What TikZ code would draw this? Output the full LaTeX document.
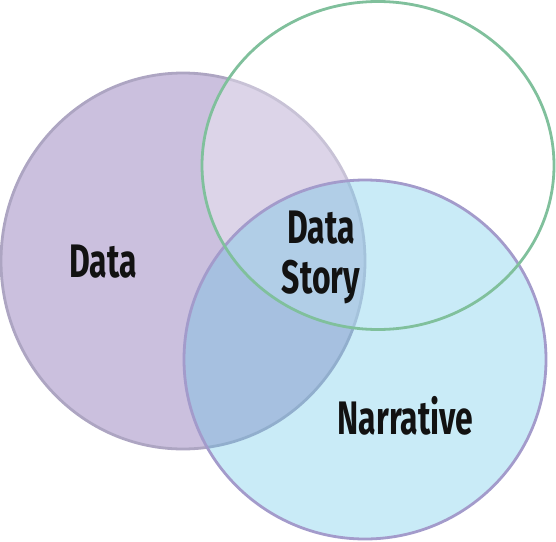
\documentclass[tikz,border=0pt]{standalone}
\usepackage{fontspec}
\newfontfamily\lbl{Fira Sans}[FakeStretch=0.68]
\definecolor{purpfill}{HTML}{CBC0DE}
\definecolor{purpedge}{HTML}{ADA5C2}
\definecolor{bluefill}{RGB}{91,194,230}
\definecolor{blueedge}{HTML}{A39BCB}
\definecolor{greenedge}{HTML}{80C09C}
\tikzset{
  lbltext/.style={font=\lbl\bfseries\fontsize{47}{52}\selectfont, text=black!93, anchor=base, inner sep=0pt},
}
\begin{document}
\begin{tikzpicture}[x=1pt,y=-1pt]
\useasboundingbox (0,0) rectangle (556,541);
% purple (Data)
\filldraw[fill=purpfill, draw=purpedge, line width=2.8pt] (183,261) ellipse [x radius=182pt, y radius=188pt];
% green (Story) white veil
\fill[white, fill opacity=0.33] (378,165.5) ellipse [x radius=176pt, y radius=164pt];
% blue (Narrative)
\fill[bluefill, fill opacity=0.33] (365,359.5) ellipse [x radius=181pt, y radius=179.5pt];
\draw[blueedge, line width=2.8pt] (365,359.5) ellipse [x radius=181pt, y radius=179.5pt];
% green outline
\draw[greenedge, line width=2.8pt] (378,165.5) ellipse [x radius=176pt, y radius=164pt];
% labels
\node[lbltext] (data) at (103,277.5) {Data};
\node[lbltext] (ds1) at (321,243.5) {Data};
\node[lbltext] (ds2) at (321,293) {Story};
\node[lbltext] (narr) at (405.5,434) {Narrative};
\end{tikzpicture}
\end{document}
